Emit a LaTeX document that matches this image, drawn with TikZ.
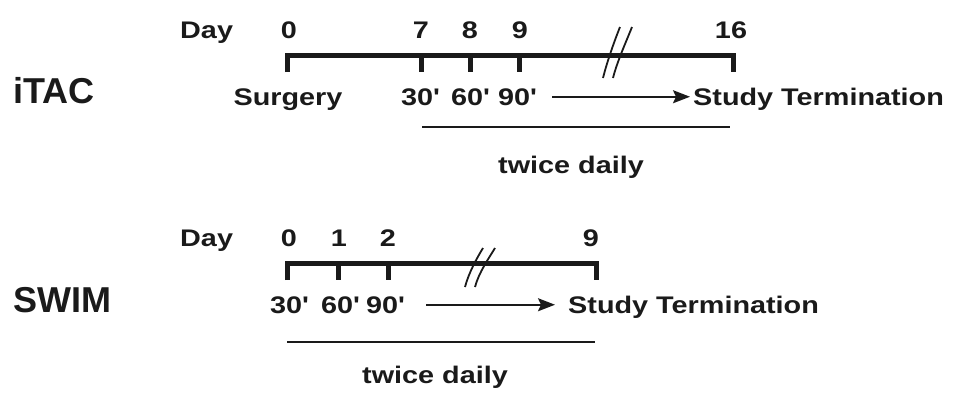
\documentclass[tikz,border=0pt]{standalone}
\usepackage{fontspec}
\usetikzlibrary{arrows.meta}
\newfontfamily\labfont{Liberation Sans}[FakeStretch=1.2]
\newfontfamily\armfont{Liberation Sans}
\definecolor{ink}{HTML}{1A1A1A}
\newcommand{\mins}[1]{#1\textquotesingle}

\begin{document}
\begin{tikzpicture}[x=1pt, y=-1pt,
    lab/.style={inner sep=0pt, anchor=base, text=ink, font=\labfont\bfseries\fontsize{24}{28}\selectfont},
    arm/.style={inner sep=0pt, anchor=base west, text=ink, font=\armfont\bfseries\fontsize{36}{40}\selectfont},
    bar/.style={draw=ink, line width=5pt, line join=miter},
    flow/.style={draw=ink, line width=1.8pt, -{Stealth[length=17pt, width=13pt, inset=3pt]}},
    span/.style={draw=ink, line width=1.8pt},
    brk/.style={draw=ink, line width=1.8pt}]
    \useasboundingbox (0,0) rectangle (954,394);

    % iTAC
    \node[arm] (itac) at (13,103) {iTAC};
    \node[lab, anchor=base west] (day1) at (180,38) {Day};
    \node[lab] (d0) at (289,38) {0};
    \node[lab] (d7) at (421,38) {7};
    \node[lab] (d8) at (470,38) {8};
    \node[lab] (d9) at (520,38) {9};
    \node[lab] (d16) at (731,38) {16};

    % Zeitachse
    \coordinate (a0) at (287,55);
    \coordinate (a0b) at (287,72);
    \coordinate (a16) at (733,55);
    \coordinate (a16b) at (733,72);
    \draw[bar] (a0b) -- (a0) -- (a16) -- (a16b);
    \foreach \t in {421,470,519}
        \draw[bar] (\t,55) -- (\t,72);
    \draw[brk] (603,78) .. controls (607,62) and (614,42) .. (620,27);
    \draw[brk] (613,78) .. controls (617,62) and (626,42) .. (632,27);

    \node[lab] (surg) at (288,105) {Surgery};
    \node[lab] (m30a) at (420,105) {\mins{30}};
    \node[lab] (m60a) at (470,105) {\mins{60}};
    \node[lab] (m90a) at (517,105) {\mins{90}};
    \node[lab, anchor=base west] (end1) at (693,105) {Study Termination};
    \draw[flow, shorten <=16pt, shorten >=3pt] (m90a.east) -- (m90a.east -| end1.west);

    \coordinate (u1s) at (422,127);
    \coordinate (u1e) at (730,127);
    \draw[span] (u1s) -- (u1e);
    \node[lab] (tw1) at (571,173) {twice daily};

    % SWIM
    \node[arm] (swim) at (13,312) {SWIM};
    \node[lab, anchor=base west] (day2) at (180,246) {Day};
    \node[lab] (e0) at (289,246) {0};
    \node[lab] (e1) at (339,246) {1};
    \node[lab] (e2) at (388,246) {2};
    \node[lab] (e9) at (591,246) {9};

    % Zeitachse
    \coordinate (b0) at (287,263);
    \coordinate (b0b) at (287,280);
    \coordinate (b9) at (596,263);
    \coordinate (b9b) at (596,280);
    \draw[bar] (b0b) -- (b0) -- (b9) -- (b9b);
    \foreach \t in {338,388}
        \draw[bar] (\t,263) -- (\t,280);
    \draw[brk] (465,287) .. controls (469,272) and (477,258) .. (483,248);
    \draw[brk] (475,287) .. controls (479,272) and (489,258) .. (495,248);

    \node[lab] (m30b) at (289,313) {\mins{30}};
    \node[lab] (m60b) at (340,313) {\mins{60}};
    \node[lab] (m90b) at (385,313) {\mins{90}};
    \node[lab, anchor=base west] (end2) at (568,313) {Study Termination};
    \draw[flow, shorten <=22pt, shorten >=13pt] (m90b.east) -- (m90b.east -| end2.west);

    \coordinate (u2s) at (287,342);
    \coordinate (u2e) at (595,342);
    \draw[span] (u2s) -- (u2e);
    \node[lab] (tw2) at (435,383) {twice daily};
\end{tikzpicture}
\end{document}
